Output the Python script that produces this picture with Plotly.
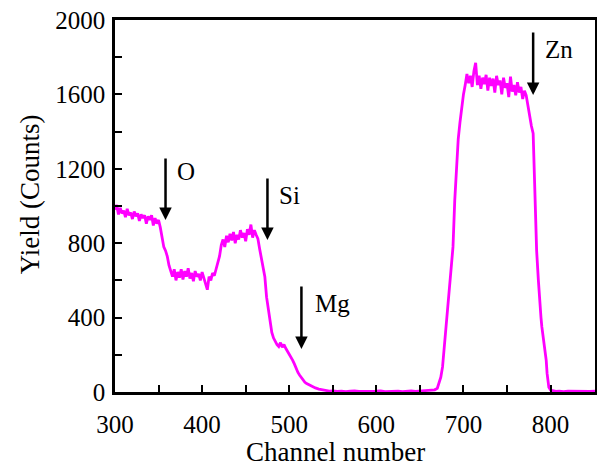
import plotly.graph_objects as go

channels = [300,302,304,306,308,310,312,314,316,318,320,322,324,326,328,330,332,334,336,338,
            340,342,344,346,348,350,352,354,356,358,360,362,364,366,368,370,372,374,376,378,
            380,382,384,386,388,390,392,394,396,398,400,402,404,406,408,410,412,414,416,418,
            420,422,424,426,428,430,432,434,436,438,440,442,444,446,448,450,452,454,456,458,
            460,462,464,466,468,470,472,474,476,478,480,482,484,486,488,490,492,494,496,498,
            500,502,504,506,508,510,512,514,516,518,520,523,526,530,534,538,542,546,550,555,
            560,565,570,575,580,585,590,595,600,605,610,615,620,625,630,635,640,645,650,655,
            660,664,667,670,672,674,676,678,680,682,684,686,688,690,692,694,696,698,700,702,
            704,706,708,710,712,714,716,718,720,722,724,726,728,730,732,734,736,738,740,742,
            744,746,748,750,752,754,756,758,760,762,764,766,768,770,772,774,776,778,780,782,
            783,784,786,787,789,790,792,794,795,796,797,798,800,803,806,810,815,820,825,830,
            835,840,845,851]
counts = [980,1005,955,990,960,975,940,985,950,965,930,970,945,960,920,955,935,950,905,945,
          925,950,895,935,905,925,885,840,780,760,730,680,650,620,660,600,645,615,660,605,
          650,620,665,610,640,595,650,620,635,600,645,610,570,550,620,600,640,625,660,700,
          730,790,820,780,840,805,850,815,860,800,845,820,870,830,855,810,875,845,900,830,
          870,845,825,770,720,690,620,510,440,380,320,290,270,255,245,265,240,255,235,220,
          205,190,170,150,125,105,90,75,62,52,45,38,30,22,16,12,8,5,6,3,
          5,2,4,6,3,2,5,3,4,6,2,4,3,5,2,4,6,3,5,4,
          6,8,12,20,45,80,135,240,350,450,548,670,780,1030,1200,1360,1450,1540,1600,1650,
          1710,1660,1700,1640,1725,1770,1650,1700,1630,1690,1655,1705,1620,1690,1645,1685,1610,1700,1650,1675,
          1600,1690,1635,1660,1585,1695,1615,1650,1595,1665,1610,1640,1575,1620,1595,1540,1470,1430,1390,1100,
          900,760,600,510,400,350,280,210,170,100,50,25,10,5,3,5,2,4,3,5,
          2,4,3,4]

# element markers: label, arrow channel, arrow tail (top) y, arrow tip y, label x, label y
elements = ["O", "Si", "Mg", "Zn"]
arrow_x = [358, 475, 514, 780]
arrow_top = [1263, 1156, 575, 1941]
arrow_tip = [925, 817, 231, 1597]
label_x = [382, 500, 550, 810]
label_y = [1183, 1059, 478, 1839]

x_ticks = [300, 400, 500, 600, 700, 800]
y_ticks = [0, 400, 800, 1200, 1600, 2000]

FONT = "Times New Roman, Liberation Serif, DejaVu Serif, serif"

fig = go.Figure()
fig.add_trace(go.Scatter(x=channels, y=counts, mode="lines",
                         line=dict(color="#FF00FF", width=2.8), showlegend=False))

annotations = []
for name, ax_, top, tip, lx, ly in zip(elements, arrow_x, arrow_top, arrow_tip, label_x, label_y):
    annotations.append(dict(x=ax_, y=tip, ax=ax_, ay=top, xref="x", yref="y", axref="x", ayref="y",
                            text="", showarrow=True, arrowhead=2, arrowsize=1.0, arrowwidth=2.5,
                            arrowcolor="black", standoff=0, startstandoff=0))
    annotations.append(dict(x=lx, y=ly, xref="x", yref="y", text=name, showarrow=False,
                            font=dict(family=FONT, size=25, color="black")))

# axis titles
annotations.append(dict(x=0.4604, y=-0.161, xref="paper", yref="paper", text="Channel number",
                        showarrow=False, xanchor="center", yanchor="middle",
                        font=dict(family=FONT, size=27, color="black")))
annotations.append(dict(x=-0.177, y=0.532, xref="paper", yref="paper", text="Yield (Counts)",
                        showarrow=False, xanchor="center", yanchor="middle", textangle=-90,
                        font=dict(family=FONT, size=27, color="black")))

axis_common = dict(showline=True, linewidth=2.5, linecolor="black", mirror=True,
                   ticks="inside", ticklen=7, tickwidth=2, tickcolor="black",
                   showgrid=False, zeroline=False, automargin=False,
                   tickfont=dict(family=FONT, size=25, color="black"))

fig.update_layout(
    width=597, height=470,
    font=dict(family=FONT, color="black"),
    margin=dict(l=115, r=2, t=20, b=78, autoexpand=False),
    plot_bgcolor="white", paper_bgcolor="white",
    annotations=annotations,
    xaxis=dict(range=[300, 851], tickvals=x_ticks, ticklabelstandoff=8,
               minor=dict(dtick=50, tick0=300, ticks="inside", ticklen=7, tickwidth=2, tickcolor="black"),
               **axis_common),
    yaxis=dict(range=[0, 2000], tickvals=y_ticks, ticklabelstandoff=2,
               minor=dict(dtick=200, tick0=0, ticks="inside", ticklen=7, tickwidth=2, tickcolor="black"),
               **axis_common),
)

fig.write_html("out.html", config={"displayModeBar": False},
               post_script="document.body.style.margin='0';document.body.style.padding='0';")
